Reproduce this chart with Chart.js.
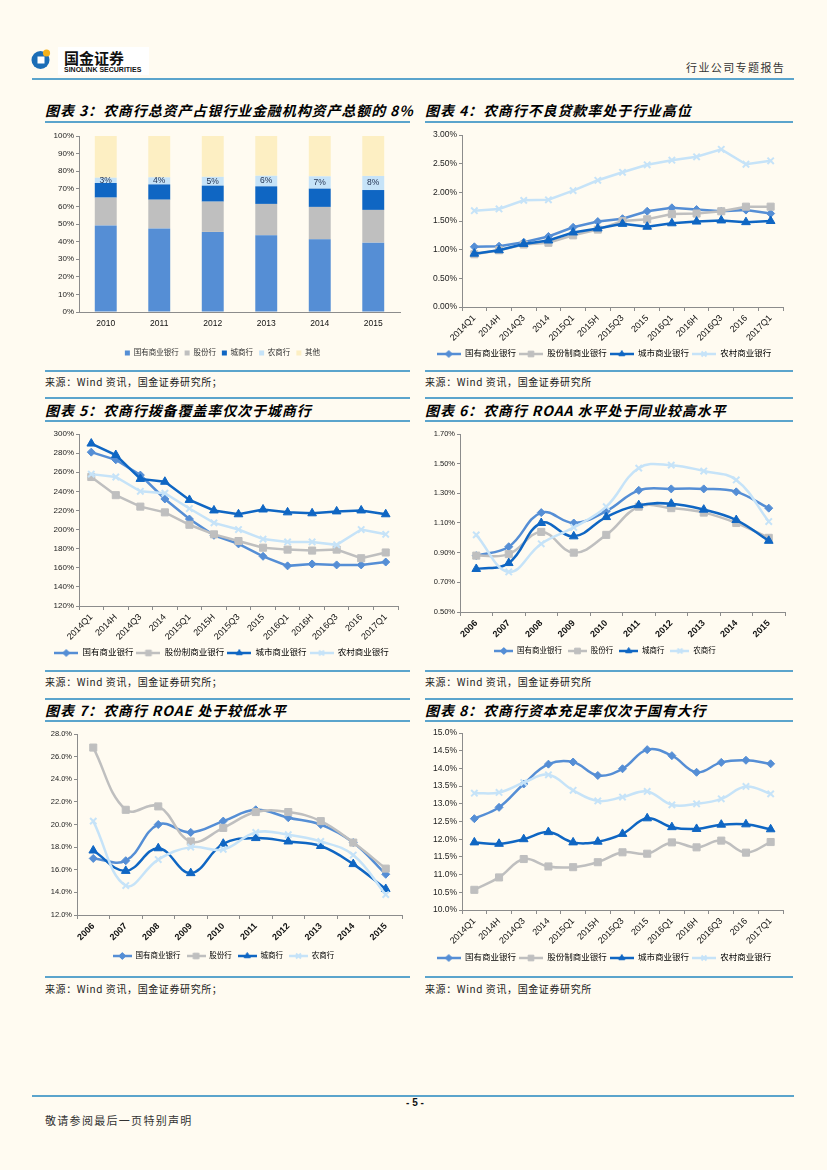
<!DOCTYPE html>
<html lang="zh-CN">
<head>
<meta charset="utf-8">
<title>行业公司专题报告 - 5</title>
<script src="https://cdn.jsdelivr.net/npm/chart.js@4"></script>
<style>
  html, body { margin: 0; padding: 0; }
  body {
    width: 827px; height: 1170px; position: relative; overflow: hidden;
    background: #fffbf1;
    font-family: "Noto Sans CJK SC", "Liberation Sans", sans-serif;
  }
  .rule { position: absolute; height: 2px; background: #5ba4cc; }
  .title {
    position: absolute; font-size: 14px; line-height: 16px; font-weight: bold;
    font-style: italic; letter-spacing: 0.9px; color: #000; white-space: nowrap;
  }
  .source {
    position: absolute; font-size: 10px; line-height: 14px; letter-spacing: 0.6px;
    color: #222; white-space: nowrap;
  }
  .chart { position: absolute; }
  .logo-box { position: absolute; left: 58px; top: 47px; width: 91px; height: 28px; background: #fff; }
</style>
</head>
<body>

<!-- 页眉 -->
<svg style="position:absolute;left:31px;top:48px" width="22" height="22" viewBox="0 0 22 22">
  <circle cx="9.5" cy="12" r="9" fill="#1b6db6"/>
  <rect x="6.5" y="8.5" width="7" height="7" fill="#fff"/>
  <circle cx="15.5" cy="5" r="3.6" fill="#f3b11c"/>
</svg>
<div class="logo-box"></div>
<div style="position:absolute;left:64px;top:49px;font-size:15px;line-height:17px;font-weight:bold;color:#111">国金证券</div>
<div style="position:absolute;left:64px;top:66px;font-family:'Liberation Sans',Arial,sans-serif;font-size:7px;line-height:8px;font-weight:bold;color:#111">SINOLINK SECURITIES</div>
<div style="position:absolute;left:686px;top:60px;font-size:11px;line-height:14px;letter-spacing:1.4px;color:#333">行业公司专题报告</div>
<div class="rule" style="left:32px;top:78px;width:762px"></div>

<!-- 第一行 -->
<div class="title" style="left:45px;top:102px">图表 3：农商行总资产占银行业金融机构资产总额的 8%</div>
<div class="rule" style="left:45px;top:121px;width:365px"></div>
<div class="chart" style="left:45px;top:126px;width:365px;height:243px"><canvas id="c3"></canvas></div>
<div class="rule" style="left:45px;top:370px;width:365px"></div>
<div class="source" style="left:45px;top:375px">来源：Wind 资讯，国金证券研究所；</div>

<div class="title" style="left:425px;top:102px">图表 4：农商行不良贷款率处于行业高位</div>
<div class="rule" style="left:425px;top:121px;width:368px"></div>
<div class="chart" style="left:425px;top:126px;width:368px;height:243px"><canvas id="c4"></canvas></div>
<div class="rule" style="left:425px;top:370px;width:368px"></div>
<div class="source" style="left:425px;top:375px">来源：Wind 资讯，国金证券研究所</div>

<!-- 第二行 -->
<div class="rule" style="left:45px;top:397px;width:365px"></div>
<div class="title" style="left:45px;top:402px">图表 5：农商行拨备覆盖率仅次于城商行</div>
<div class="rule" style="left:45px;top:420px;width:365px"></div>
<div class="chart" style="left:45px;top:423px;width:365px;height:246px"><canvas id="c5"></canvas></div>
<div class="rule" style="left:45px;top:670px;width:365px"></div>
<div class="source" style="left:45px;top:675px">来源：Wind 资讯，国金证券研究所；</div>

<div class="rule" style="left:425px;top:397px;width:368px"></div>
<div class="title" style="left:425px;top:402px">图表 6：农商行 ROAA 水平处于同业较高水平</div>
<div class="rule" style="left:425px;top:420px;width:368px"></div>
<div class="chart" style="left:425px;top:423px;width:368px;height:246px"><canvas id="c6"></canvas></div>
<div class="rule" style="left:425px;top:670px;width:368px"></div>
<div class="source" style="left:425px;top:675px">来源：Wind 资讯，国金证券研究所</div>

<!-- 第三行 -->
<div class="rule" style="left:45px;top:698px;width:365px"></div>
<div class="title" style="left:45px;top:702px">图表 7：农商行 ROAE 处于较低水平</div>
<div class="rule" style="left:45px;top:720px;width:365px"></div>
<div class="chart" style="left:45px;top:723px;width:365px;height:252px"><canvas id="c7"></canvas></div>
<div class="rule" style="left:45px;top:976px;width:365px"></div>
<div class="source" style="left:45px;top:982px">来源：Wind 资讯，国金证券研究所；</div>

<div class="rule" style="left:425px;top:698px;width:368px"></div>
<div class="title" style="left:425px;top:702px">图表 8：农商行资本充足率仅次于国有大行</div>
<div class="rule" style="left:425px;top:720px;width:368px"></div>
<div class="chart" style="left:425px;top:723px;width:368px;height:252px"><canvas id="c8"></canvas></div>
<div class="rule" style="left:425px;top:976px;width:368px"></div>
<div class="source" style="left:425px;top:982px">来源：Wind 资讯，国金证券研究所</div>

<!-- 页脚 -->
<div class="rule" style="left:32px;top:1095px;width:762px"></div>
<div style="position:absolute;left:395px;top:1097px;width:40px;text-align:center;font-family:'Liberation Sans',Arial,sans-serif;font-size:10px;line-height:12px;font-weight:bold;color:#111">- 5 -</div>
<div style="position:absolute;left:45px;top:1113px;font-size:11px;line-height:14px;letter-spacing:1.3px;color:#333">敬请参阅最后一页特别声明</div>

<script>
// 数据
const assetYears = ['2010', '2011', '2012', '2013', '2014', '2015'];
const assetGuoyou = [49.2, 47.5, 45.5, 43.6, 41.3, 39.4];
const assetGufen = [15.8, 16.3, 17.2, 17.8, 18.4, 18.6];
const assetChengshang = [8.3, 8.7, 9.1, 10.0, 10.4, 11.3];
const assetNongshang = [3, 4, 5, 6, 7, 8];
const assetOther = [23.7, 23.5, 23.2, 22.6, 22.9, 22.7];
const assetNames = ['国有商业银行', '股份行', '城商行', '农商行', '其他'];

const quarterLabels = ['2014Q1', '2014H', '2014Q3', '2014', '2015Q1', '2015H', '2015Q3',
                       '2015', '2016Q1', '2016H', '2016Q3', '2016', '2017Q1'];
const yearLabels = ['2006', '2007', '2008', '2009', '2010', '2011', '2012', '2013', '2014', '2015'];
const bankNamesLong = ['国有商业银行', '股份制商业银行', '城市商业银行', '农村商业银行'];
const bankNamesShort = ['国有商业银行', '股份行', '城商行', '农商行'];

// 不良贷款率 (%)
const nplGuoyou = [1.05, 1.06, 1.13, 1.23, 1.39, 1.49, 1.54, 1.67, 1.73, 1.70, 1.67, 1.69, 1.63];
const nplGufen = [0.92, 0.99, 1.09, 1.12, 1.25, 1.35, 1.50, 1.53, 1.62, 1.63, 1.67, 1.75, 1.75];
const nplChengshang = [0.93, 0.99, 1.10, 1.16, 1.30, 1.37, 1.45, 1.40, 1.46, 1.49, 1.51, 1.48, 1.50];
const nplNongshang = [1.68, 1.71, 1.86, 1.87, 2.03, 2.21, 2.35, 2.48, 2.56, 2.62, 2.75, 2.49, 2.55];

// 拨备覆盖率 (%)
const covGuoyou = [281, 273, 257, 232, 211, 194, 185, 172, 162, 164, 163, 163, 166];
const covGufen = [255, 236, 224, 218, 205, 195, 188, 181, 179, 178, 179, 170, 176];
const covChengshang = [290, 278, 253, 250, 231, 220, 216, 221, 218, 217, 219, 220, 216];
const covNongshang = [258, 255, 240, 238, 222, 207, 200, 190, 187, 187, 184, 200, 195];

// ROAA (%)
const roaaGuoyou = [0.88, 0.94, 1.17, 1.10, 1.18, 1.32, 1.33, 1.33, 1.31, 1.20];
const roaaGufen = [0.88, 0.89, 1.04, 0.90, 1.02, 1.21, 1.20, 1.17, 1.10, 1.00];
const roaaChengshang = [0.79, 0.83, 1.10, 1.01, 1.14, 1.22, 1.23, 1.19, 1.12, 0.98];
const roaaNongshang = [1.02, 0.77, 0.96, 1.07, 1.21, 1.47, 1.49, 1.45, 1.39, 1.11];

// ROAE (%)
const roaeGuoyou = [17.0, 16.8, 20.0, 19.3, 20.3, 21.3, 20.6, 20.0, 18.4, 15.6];
const roaeGufen = [26.8, 21.3, 21.6, 18.5, 19.7, 21.1, 21.1, 20.3, 18.4, 16.1];
const roaeChengshang = [17.7, 15.9, 17.9, 15.7, 18.3, 18.8, 18.5, 18.1, 16.5, 14.3];
const roaeNongshang = [20.3, 14.6, 16.9, 18.0, 17.8, 19.3, 19.1, 18.5, 17.3, 13.8];

// 资本充足率 (%)
const carGuoyou = [12.58, 12.90, 13.56, 14.12, 14.18, 13.80, 13.99, 14.53, 14.36, 13.89, 14.17, 14.23, 14.13];
const carGufen = [10.57, 10.92, 11.44, 11.23, 11.21, 11.35, 11.63, 11.59, 11.91, 11.77, 11.96, 11.62, 11.92];
const carChengshang = [11.91, 11.87, 12.00, 12.20, 11.91, 11.93, 12.15, 12.59, 12.34, 12.29, 12.41, 12.42, 12.28];
const carNongshang = [13.30, 13.32, 13.60, 13.82, 13.38, 13.08, 13.19, 13.35, 12.97, 13.00, 13.14, 13.49, 13.28];

// 样式
Chart.defaults.font.family = '"Liberation Sans", Arial, "Noto Sans CJK SC", sans-serif';
Chart.defaults.color = '#222';
Chart.defaults.animation = false;

const AXIS_GRAY = '#8c8c8c';
const COLORS = ['#558ed5', '#bfbfbf', '#0f66c3', '#c6e3f8'];
const MARKERS = ['rectRot', 'rect', 'triangle', 'crossRot'];
const RADII = [4, 5, 5, 4.5];
const BAR_COLORS = ['#558ed5', '#bfbfbf', '#0f66c3', '#c6e3f8', '#fdefc3'];

// 图例用的小图标：线段 + 标记
function legendIcon(color, marker, w) {
    const c = document.createElement('canvas');
    c.width = w;
    c.height = 10;
    const ctx = c.getContext('2d');
    ctx.strokeStyle = color;
    ctx.fillStyle = color;
    ctx.lineWidth = 2.5;
    ctx.beginPath();
    ctx.moveTo(0, 5);
    ctx.lineTo(w, 5);
    ctx.stroke();
    ctx.lineWidth = marker === 'crossRot' ? 2 : 1;
    Chart.helpers.drawPoint(ctx, { pointStyle: marker, radius: marker === 'rect' ? 4 : 3.5, borderWidth: ctx.lineWidth, rotation: 0 }, w / 2, 5);
    return c;
}

// 根据页面坐标算出画布内边距
function frame(box, plot, legendY, legendFont, legendPad) {
    const legendTop = legendY - legendPad - legendFont / 2;
    const legendBottom = legendY + legendFont / 2 + 10;
    return {
        padding: {
            left: 0,
            top: plot.top - box.top,
            right: box.left + box.width - plot.right,
            bottom: Math.max(0, box.top + box.height - legendBottom)
        },
        yWidth: plot.left - box.left,
        xHeight: legendTop - plot.bottom
    };
}

function lineChart(id, cfg) {
    const f = frame(cfg.box, cfg.plot, cfg.legendY, cfg.legendFont, cfg.legendPad);
    const icons = COLORS.map((c, i) => legendIcon(c, MARKERS[i], cfg.iconW));
    new Chart(document.getElementById(id), {
        type: 'line',
        data: {
            labels: cfg.labels,
            datasets: cfg.series.map((d, i) => ({
                label: cfg.names[i],
                data: d,
                borderColor: COLORS[i],
                backgroundColor: COLORS[i],
                pointBorderColor: COLORS[i],
                pointBackgroundColor: COLORS[i],
                borderWidth: 2.5,
                pointStyle: MARKERS[i],
                pointRadius: RADII[i],
                pointBorderWidth: MARKERS[i] === 'crossRot' ? 2 : 1,
                tension: cfg.smooth ? 0.4 : 0,
                order: 4 - i
            }))
        },
        options: {
            responsive: true,
            maintainAspectRatio: false,
            animation: false,
            layout: { padding: f.padding },
            scales: {
                x: {
                    offset: true,
                    grid: { offset: true, drawOnChartArea: false, tickLength: 4, color: AXIS_GRAY },
                    border: { color: AXIS_GRAY },
                    ticks: {
                        autoSkip: false, maxRotation: 45, minRotation: 45, padding: 2,
                        color: '#111', font: { size: cfg.xFont, weight: cfg.xBold ? 'bold' : 'normal' }
                    },
                    afterFit: s => { s.height = f.xHeight; }
                },
                y: {
                    min: cfg.min,
                    max: cfg.max,
                    grid: { drawOnChartArea: false, tickLength: 3, color: AXIS_GRAY },
                    border: { color: AXIS_GRAY },
                    ticks: {
                        stepSize: cfg.step, padding: 2, color: '#222',
                        font: { size: cfg.yFont },
                        callback: v => v.toFixed(cfg.decimals) + '%'
                    },
                    afterFit: s => { s.width = f.yWidth; }
                }
            },
            plugins: {
                legend: {
                    position: 'bottom',
                    labels: {
                        usePointStyle: true,
                        pointStyleWidth: cfg.iconW,
                        padding: cfg.legendPad,
                        color: '#333',
                        font: { size: cfg.legendFont },
                        generateLabels: chart => chart.data.datasets.map((ds, i) => ({
                            text: ds.label,
                            pointStyle: icons[i],
                            fillStyle: COLORS[i],
                            strokeStyle: COLORS[i],
                            lineWidth: 0,
                            hidden: false,
                            datasetIndex: i
                        }))
                    }
                },
                tooltip: { enabled: false }
            }
        }
    });
}

// 柱状图上农商行占比标签
const segmentLabelPlugin = {
    id: 'segmentLabel',
    afterDatasetsDraw(chart, args, opts) {
        const idx = opts.datasetIndex;
        const meta = chart.getDatasetMeta(idx);
        const values = chart.data.datasets[idx].data;
        const ctx = chart.ctx;
        ctx.save();
        ctx.font = '8.5px "Liberation Sans", Arial, sans-serif';
        ctx.fillStyle = '#1f2f4f';
        ctx.textAlign = 'center';
        ctx.textBaseline = 'middle';
        meta.data.forEach((bar, i) => {
            ctx.fillText(values[i] + '%', bar.x, (bar.y + bar.base) / 2);
        });
        ctx.restore();
    }
};

// 图表 3
(function () {
    const box = { left: 45, top: 126, width: 365, height: 243 };
    const plot = { left: 79, top: 136, right: 400, bottom: 312 };
    const f = frame(box, plot, 353, 7.5, 6);
    const series = [assetGuoyou, assetGufen, assetChengshang, assetNongshang, assetOther];
    new Chart(document.getElementById('c3'), {
        type: 'bar',
        data: {
            labels: assetYears,
            datasets: series.map((d, i) => ({
                label: assetNames[i],
                data: d,
                backgroundColor: BAR_COLORS[i],
                borderWidth: 0,
                barPercentage: 0.41,
                categoryPercentage: 1
            }))
        },
        plugins: [segmentLabelPlugin],
        options: {
            responsive: true,
            maintainAspectRatio: false,
            animation: false,
            layout: { padding: f.padding },
            scales: {
                x: {
                    stacked: true,
                    grid: { drawOnChartArea: false, drawTicks: false, color: AXIS_GRAY },
                    border: { color: AXIS_GRAY },
                    ticks: { padding: 7, color: '#111', font: { size: 8.5 } },
                    afterFit: s => { s.height = f.xHeight; }
                },
                y: {
                    stacked: true,
                    min: 0,
                    max: 100,
                    grid: { drawOnChartArea: false, tickLength: 3, color: AXIS_GRAY },
                    border: { color: AXIS_GRAY },
                    ticks: { stepSize: 10, padding: 2, color: '#222', font: { size: 8 }, callback: v => v + '%' },
                    afterFit: s => { s.width = f.yWidth; }
                }
            },
            plugins: {
                legend: {
                    position: 'bottom',
                    labels: { boxWidth: 5, boxHeight: 5, padding: 6, color: '#333', font: { size: 7.5 } }
                },
                tooltip: { enabled: false },
                segmentLabel: { datasetIndex: 3 }
            }
        }
    });
})();

// 图表 4
lineChart('c4', {
    labels: quarterLabels,
    series: [nplGuoyou, nplGufen, nplChengshang, nplNongshang],
    names: bankNamesLong,
    min: 0, max: 3, step: 0.5, decimals: 2, smooth: false,
    box: { left: 425, top: 126, width: 368, height: 243 },
    plot: { left: 462, top: 135, right: 783, bottom: 307 },
    legendY: 354, legendFont: 8.5, legendPad: 3, iconW: 24,
    xFont: 9, xBold: false, yFont: 8.5
});

// 图表 5
lineChart('c5', {
    labels: quarterLabels,
    series: [covGuoyou, covGufen, covChengshang, covNongshang],
    names: bankNamesLong,
    min: 120, max: 300, step: 20, decimals: 0, smooth: false,
    box: { left: 45, top: 423, width: 365, height: 246 },
    plot: { left: 79, top: 434, right: 398, bottom: 606 },
    legendY: 653, legendFont: 8.5, legendPad: 3, iconW: 24,
    xFont: 9, xBold: false, yFont: 8
});

// 图表 6
lineChart('c6', {
    labels: yearLabels,
    series: [roaaGuoyou, roaaGufen, roaaChengshang, roaaNongshang],
    names: bankNamesShort,
    min: 0.5, max: 1.7, step: 0.2, decimals: 2, smooth: true,
    box: { left: 425, top: 423, width: 368, height: 246 },
    plot: { left: 460, top: 434, right: 785, bottom: 612 },
    legendY: 651, legendFont: 7.5, legendPad: 6, iconW: 19,
    xFont: 9, xBold: true, yFont: 7.5
});

// 图表 7
lineChart('c7', {
    labels: yearLabels,
    series: [roaeGuoyou, roaeGufen, roaeChengshang, roaeNongshang],
    names: bankNamesShort,
    min: 12, max: 28, step: 2, decimals: 1, smooth: true,
    box: { left: 45, top: 723, width: 365, height: 252 },
    plot: { left: 77, top: 734, right: 402, bottom: 915 },
    legendY: 956, legendFont: 7.5, legendPad: 6, iconW: 19,
    xFont: 9, xBold: true, yFont: 7.5
});

// 图表 8
lineChart('c8', {
    labels: quarterLabels,
    series: [carGuoyou, carGufen, carChengshang, carNongshang],
    names: bankNamesLong,
    min: 10, max: 15, step: 0.5, decimals: 1, smooth: true,
    box: { left: 425, top: 723, width: 368, height: 252 },
    plot: { left: 462, top: 733, right: 783, bottom: 910 },
    legendY: 958, legendFont: 8.5, legendPad: 3, iconW: 24,
    xFont: 9, xBold: false, yFont: 8.5
});
</script>
</body>
</html>
